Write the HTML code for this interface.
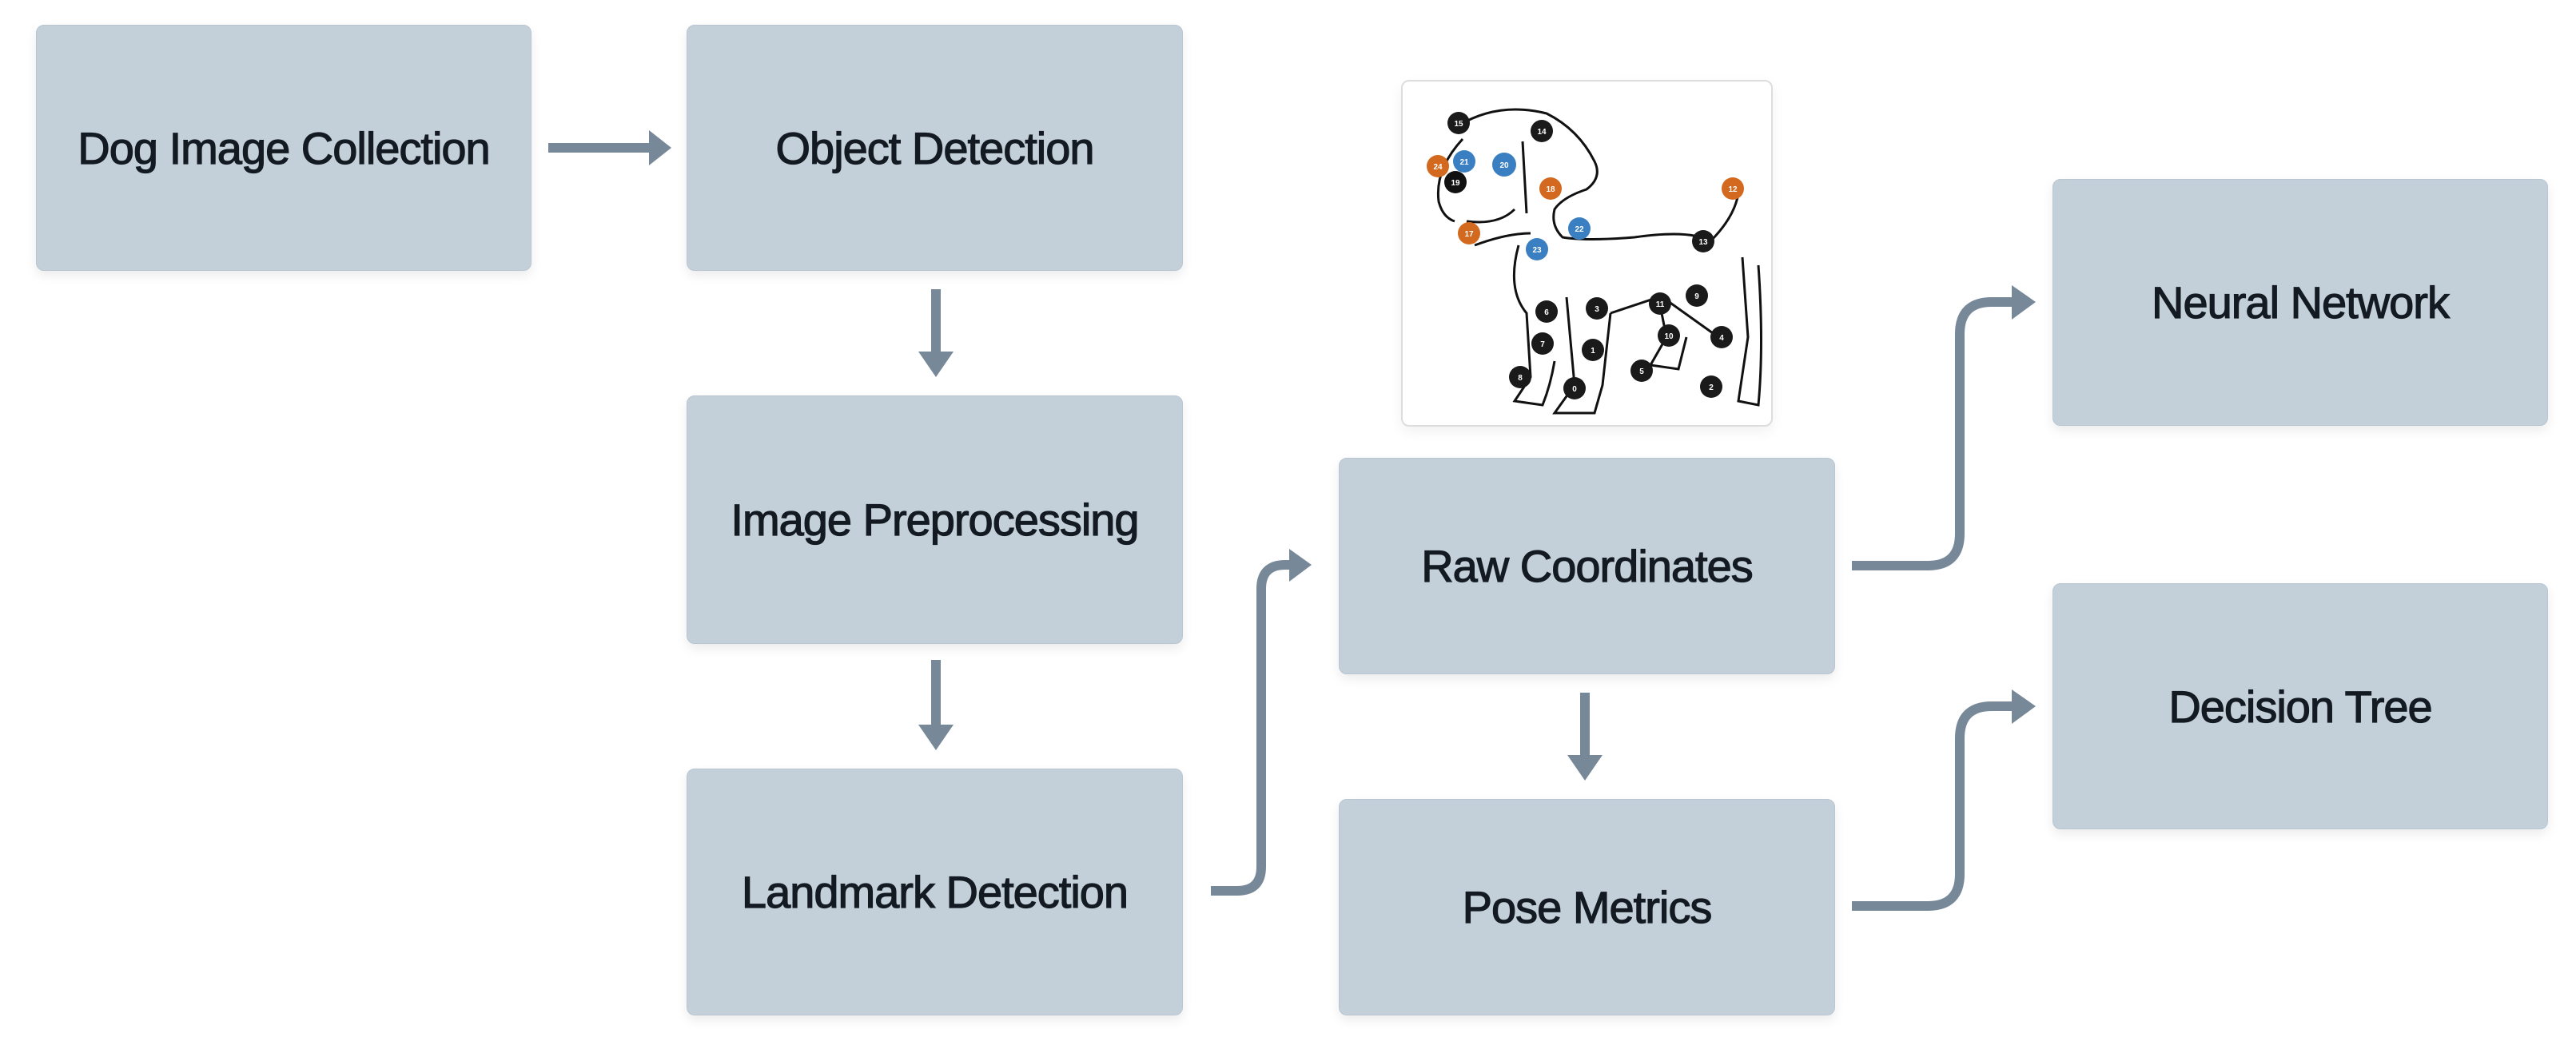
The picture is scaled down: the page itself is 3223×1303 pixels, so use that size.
<!DOCTYPE html>
<html><head><meta charset="utf-8"><style>
html,body{margin:0;padding:0;background:#fff;}
body{width:3223px;height:1303px;position:relative;overflow:hidden;font-family:"Liberation Sans",sans-serif;}
.b{position:absolute;background:#c3cfd9;border-radius:10px;box-shadow:0 6px 14px rgba(0,0,0,0.08);border:1px solid #b9c6d1;box-sizing:border-box;display:flex;align-items:center;justify-content:center;font-size:56px;color:#141a22;letter-spacing:-1px;-webkit-text-stroke:1.2px #141a22;}
.b span{display:inline-block;white-space:nowrap;}
.card{position:absolute;left:1753px;top:100px;width:465px;height:434px;background:#fff;border:2px solid #ddd;border-radius:10px;box-sizing:border-box;box-shadow:0 6px 16px rgba(0,0,0,0.06);overflow:hidden;}
svg{position:absolute;left:0;top:0;}
</style></head><body>
<div class="b" style="left:45px;top:31px;width:620px;height:308px;"><span>Dog Image Collection</span></div>
<div class="b" style="left:859px;top:31px;width:621px;height:308px;"><span>Object Detection</span></div>
<div class="b" style="left:859px;top:495px;width:621px;height:311px;"><span>Image Preprocessing</span></div>
<div class="b" style="left:859px;top:962px;width:621px;height:309px;"><span>Landmark Detection</span></div>
<div class="b" style="left:1675px;top:573px;width:621px;height:271px;"><span>Raw Coordinates</span></div>
<div class="b" style="left:1675px;top:1000px;width:621px;height:271px;"><span>Pose Metrics</span></div>
<div class="b" style="left:2568px;top:224px;width:620px;height:309px;"><span>Neural Network</span></div>
<div class="b" style="left:2568px;top:730px;width:620px;height:308px;"><span>Decision Tree</span></div>
<div class="card">
<svg width="465" height="434" viewBox="0 0 465 434" style="position:absolute;left:0;top:0">
<g fill="none" stroke="#111" stroke-width="3">
<path d="M70 55 Q120 25 180 40 Q220 60 240 100 Q250 120 230 135 Q200 145 190 160 Q185 180 200 195 Q230 200 290 195 Q360 185 385 200 Q415 170 420 140"/>
<path d="M150 75 L155 165"/>
<path d="M75 72 Q40 110 45 150 Q50 170 65 175"/>
<path d="M80 175 Q120 180 140 160"/>
<path d="M90 205 Q130 190 160 190"/>
<path d="M145 205 Q130 260 155 290 L160 370 L140 400 L175 405 Q185 380 190 350"/>
<path d="M205 270 L215 380 L190 415 L240 415 L250 380 L260 290"/>
<path d="M260 290 L320 270 L330 320 L310 355 L345 360 L355 320"/>
<path d="M425 220 L432 320 L420 400 L445 405 Q452 330 445 230"/>
<path d="M325 270 L395 320"/>
</g>
<g font-family="Liberation Sans,sans-serif" font-size="10" fill="#fff" text-anchor="middle" font-weight="bold">
<circle cx="70" cy="52" r="14" fill="#1a1a1a"/><text x="70" y="56">15</text>
<circle cx="174" cy="62" r="14" fill="#1a1a1a"/><text x="174" y="66">14</text>
<circle cx="44" cy="106" r="14" fill="#d2691e"/><text x="44" y="110">24</text>
<circle cx="77" cy="100" r="14" fill="#3a7fc1"/><text x="77" y="104">21</text>
<circle cx="127" cy="104" r="15" fill="#3a7fc1"/><text x="127" y="108">20</text>
<circle cx="66" cy="126" r="14" fill="#111"/><text x="66" y="130">19</text>
<circle cx="185" cy="134" r="14" fill="#d2691e"/><text x="185" y="138">18</text>
<circle cx="413" cy="134" r="14" fill="#d2691e"/><text x="413" y="138">12</text>
<circle cx="83" cy="190" r="14" fill="#d2691e"/><text x="83" y="194">17</text>
<circle cx="221" cy="184" r="14" fill="#3a7fc1"/><text x="221" y="188">22</text>
<circle cx="168" cy="210" r="14" fill="#3a7fc1"/><text x="168" y="214">23</text>
<circle cx="376" cy="200" r="14" fill="#1a1a1a"/><text x="376" y="204">13</text>
<circle cx="180" cy="288" r="14" fill="#1a1a1a"/><text x="180" y="292">6</text>
<circle cx="243" cy="284" r="14" fill="#1a1a1a"/><text x="243" y="288">3</text>
<circle cx="322" cy="278" r="14" fill="#1a1a1a"/><text x="322" y="282">11</text>
<circle cx="368" cy="268" r="14" fill="#1a1a1a"/><text x="368" y="272">9</text>
<circle cx="175" cy="328" r="14" fill="#1a1a1a"/><text x="175" y="332">7</text>
<circle cx="238" cy="336" r="14" fill="#1a1a1a"/><text x="238" y="340">1</text>
<circle cx="333" cy="318" r="14" fill="#1a1a1a"/><text x="333" y="322">10</text>
<circle cx="399" cy="320" r="14" fill="#1a1a1a"/><text x="399" y="324">4</text>
<circle cx="147" cy="370" r="14" fill="#1a1a1a"/><text x="147" y="374">8</text>
<circle cx="215" cy="384" r="14" fill="#1a1a1a"/><text x="215" y="388">0</text>
<circle cx="299" cy="362" r="14" fill="#1a1a1a"/><text x="299" y="366">5</text>
<circle cx="386" cy="382" r="14" fill="#1a1a1a"/><text x="386" y="386">2</text>
</g>
</svg>
</div>
<svg width="3223" height="1303">
<g fill="none" stroke="#778899" stroke-width="12" stroke-linecap="butt">
<path d="M686 185 H815"/>
<path d="M1171 362 V445"/>
<path d="M1171 826 V912"/>
<path d="M1983 867 V950"/>
<path d="M1515 1115 H1548 Q1578 1115 1578 1085 V737 Q1578 707 1608 707 H1618"/>
<path d="M2317 708 H2412 Q2452 708 2452 668 V418 Q2452 378 2492 378 H2522"/>
<path d="M2317 1134 H2412 Q2452 1134 2452 1094 V924 Q2452 884 2492 884 H2522"/>
</g>
<g fill="#778899">
<polygon points="812,163 840,185 812,207"/>
<polygon points="1149,440 1193,440 1171,472"/>
<polygon points="1149,907 1193,907 1171,939"/>
<polygon points="1961,945 2005,945 1983,977"/>
<polygon points="1613,687 1641,707 1613,728"/>
<polygon points="2517,357 2547,378 2517,400"/>
<polygon points="2517,863 2547,884 2517,906"/>
</g>
</svg>
</body></html>
